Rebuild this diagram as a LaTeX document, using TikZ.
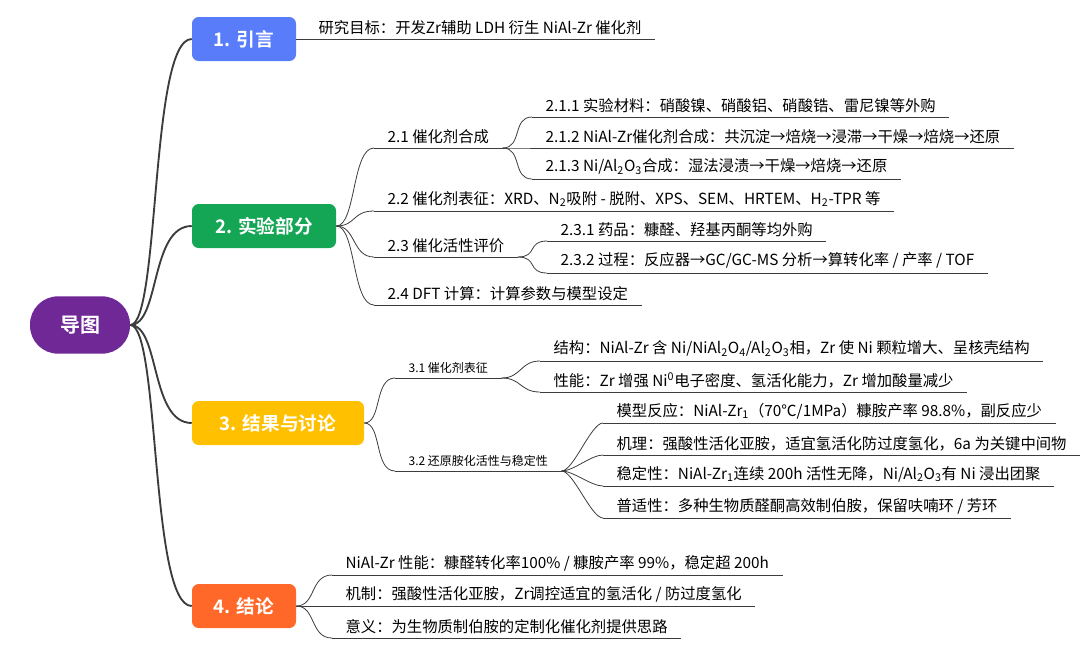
\documentclass[tikz,border=0pt]{standalone}
\usepackage{fontspec}
\setmainfont{Noto Sans CJK SC}[BoldFont={Noto Sans CJK SC Bold}]
\usepackage{tikz}
\usetikzlibrary{positioning}

\definecolor{rootc}{RGB}{112,40,150}
\definecolor{bluec}{RGB}{88,124,250}
\definecolor{greenc}{RGB}{20,166,84}
\definecolor{yellowc}{RGB}{255,192,0}
\definecolor{orangec}{RGB}{255,104,40}
\definecolor{linec}{RGB}{60,60,60}

\newcommand{\sub}[1]{\textsubscript{#1}}

\begin{document}
\begin{tikzpicture}[x=0.75pt, y=-0.75pt]
        \tikzstyle{topic} = [rectangle, rounded corners=5pt, text=white, font=\fontsize{14}{16}\selectfont\bfseries, minimum height=33pt]
        \tikzstyle{item} = [anchor=south west, inner xsep=10pt, inner ysep=3pt, font=\fontsize{11.5}{13}\selectfont, append after command={(\tikzlastnode.south west) edge[line] (\tikzlastnode.south east)}]
        \tikzstyle{small} = [font=\fontsize{9}{10}\selectfont]
        \tikzstyle{line} = [draw=linec, line width=0.6pt]
        \tikzstyle{trunk} = [draw=linec, line width=1.4pt]
        \useasboundingbox (0,0) rectangle (1080,654);

        \node [rectangle, rounded corners=21pt, fill=rootc, text=white, font=\fontsize{15}{17}\selectfont\bfseries, minimum width=75pt, minimum height=43pt] (root) at (80,325) {导图};
        \node [topic, fill=bluec, minimum width=78pt] (intro) at (244,39) {1. 引言};
        \node [topic, fill=greenc, minimum width=108pt] (exp) at (264,226) {2. 实验部分};
        \node [topic, fill=yellowc, minimum width=129pt] (res) at (278,423) {3. 结果与讨论};
        \node [topic, fill=orangec, minimum width=78pt] (con) at (244,606) {4. 结论};

        % level 2
        \node [item] (aim) at (305,39) {研究目标：开发Zr辅助 LDH 衍生 NiAl-Zr 催化剂};
        \node [item] (s21) at (374,148) {2.1 催化剂合成};
        \node [item] (s22) at (374,211) {2.2 催化剂表征：XRD、N\sub{2}吸附 - 脱附、XPS、SEM、HRTEM、H\sub{2}-TPR 等};
        \node [item] (s23) at (374,257) {2.3 催化活性评价};
        \node [item] (s24) at (374,305) {2.4 DFT 计算：计算参数与模型设定};
        \node [item, small] (s31) at (395,378) {3.1 催化剂表征};
        \node [item, small] (s32) at (395,471) {3.2 还原胺化活性与稳定性};
        \node [item] (c1) at (332,575) {NiAl-Zr 性能：糠醛转化率100\% / 糠胺产率 99\%，稳定超 200h};
        \node [item] (c2) at (332,606) {机制：强酸性活化亚胺，Zr调控适宜的氢活化 / 防过度氢化};
        \node [item] (c3) at (332,638) {意义：为生物质制伯胺的定制化催化剂提供思路};

        % level 3
        \node [item] (s211) at (532,117) {2.1.1 实验材料：硝酸镍、硝酸铝、硝酸锆、雷尼镍等外购};
        \node [item] (s212) at (532,148) {2.1.2 NiAl-Zr催化剂合成：共沉淀→焙烧→浸滞→干燥→焙烧→还原};
        \node [item] (s213) at (532,179) {2.1.3 Ni/Al\sub{2}O\sub{3}合成：湿法浸渍→干燥→焙烧→还原};
        \node [item] (s231) at (547,241) {2.3.1 药品：糠醛、羟基丙酮等均外购};
        \node [item] (s232) at (547,273) {2.3.2 过程：反应器→GC/GC-MS 分析→算转化率 / 产率 / TOF};
        \node [item] (r1) at (540,361) {结构：NiAl-Zr 含 Ni/NiAl\sub{2}O\sub{4}/Al\sub{2}O\sub{3}相，Zr 使 Ni 颗粒增大、呈核壳结构};
        \node [item] (r2) at (540,392) {性能：Zr 增强 Ni\textsuperscript{0}电子密度、氢活化能力，Zr 增加酸量减少};
        \node [item] (r3) at (603,423) {模型反应：NiAl-Zr\sub{1}（70℃/1MPa）糠胺产率 98.8\%，副反应少};
        \node [item] (r4) at (603,455) {机理：强酸性活化亚胺，适宜氢活化防过度氢化，6a 为关键中间物};
        \node [item] (r5) at (603,486) {稳定性：NiAl-Zr\sub{1}连续 200h 活性无降，Ni/Al\sub{2}O\sub{3}有 Ni 浸出团聚};
        \node [item] (r6) at (603,518) {普适性：多种生物质醛酮高效制伯胺，保留呋喃环 / 芳环};

        % root branches
        \foreach \t in {intro, exp, res, con}
            \draw [trunk] (root.east) .. controls (160,325) and (150,0|-\t.west) .. (\t.west);

        % topic branches
        \draw [line] (intro.east) -- (aim.south west);
        \foreach \c in {s21, s22, s23, s24}
            \draw [line] (exp.east) .. controls (356,226) and (352,0|-\c.south west) .. (\c.south west);
        \foreach \c in {s31, s32}
            \draw [line] (res.east) .. controls (382,423) and (374,0|-\c.south west) .. (\c.south west);
        \foreach \c in {c1, c2, c3}
            \draw [line] (con.east) .. controls (316,606) and (310,0|-\c.south west) .. (\c.south west);

        % sub branches
        \foreach \c in {s211, s212, s213}
            \draw [line] (s21.south east) .. controls +(20,0) and +(-20,0) .. (\c.south west);
        \foreach \c in {s231, s232}
            \draw [line] (s23.south east) .. controls +(20,0) and +(-20,0) .. (\c.south west);
        \foreach \c in {r1, r2}
            \draw [line] (s31.south east) .. controls +(20,0) and +(-20,0) .. (\c.south west);
        \foreach \c in {r3, r4, r5, r6}
            \draw [line] (s32.south east) .. controls +(12,0) and +(-12,0) .. (\c.south west);
\end{tikzpicture}
\end{document}
